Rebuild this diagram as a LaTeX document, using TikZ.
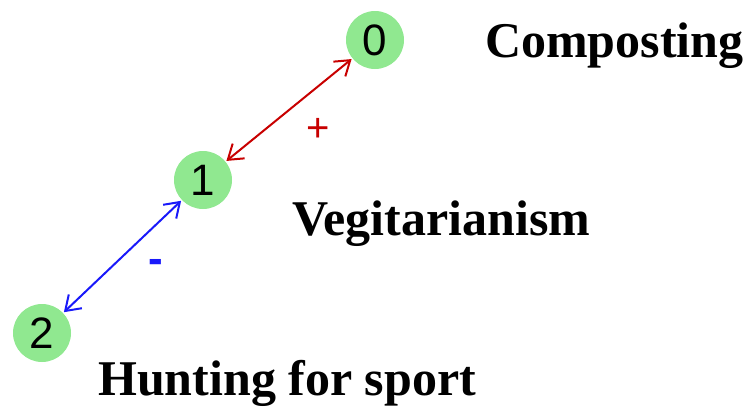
\documentclass[tikz,border=0pt]{standalone}
\usepackage{fontspec}
\setmainfont{Liberation Serif}
\newfontfamily\numfont{Liberation Sans}
\usetikzlibrary{arrows.meta}
\definecolor{nodegreen}{RGB}{144,232,144}
\definecolor{posred}{RGB}{200,0,0}
\definecolor{negblue}{RGB}{25,25,250}
\tikzset{
  statenode/.style={circle, fill=nodegreen, minimum size=58pt, inner sep=0pt, font=\numfont\fontsize{44}{44}\selectfont},
  lbl/.style={anchor=base west, inner sep=0pt, font=\bfseries\fontsize{50}{50}\selectfont},
  link/.style={line width=2pt, {Straight Barb[length=14pt,width=19pt,line width=2pt]}-{Straight Barb[length=14pt,width=19pt,line width=2pt]}, shorten <=1pt, shorten >=1pt},
  sign/.style={font=\numfont\fontsize{40}{40}\selectfont}
}
\begin{document}
\begin{tikzpicture}[x=1pt,y=-1pt]
\useasboundingbox (0,0) rectangle (751,407);
\node[statenode] (n0) at (375,40) {0};
\node[statenode] (n1) at (203,180) {1};
\node[statenode] (n2) at (42,333) {2};
\draw[link, posred] (n1) -- (n0);
\draw[link, negblue] (n2) -- (n1);
\node[sign, text=posred] (plus) at (318,130) {+};
\node[sign, text=negblue, font=\numfont\bfseries\fontsize{44}{44}\selectfont] (minus) at (156,266) {-};
\node[lbl] (c) at (485,57) {Composting};
\node[lbl] (v) at (292,235) {Vegitarianism};
\node[lbl] (h) at (98,395) {Hunting for sport};
\end{tikzpicture}
\end{document}
